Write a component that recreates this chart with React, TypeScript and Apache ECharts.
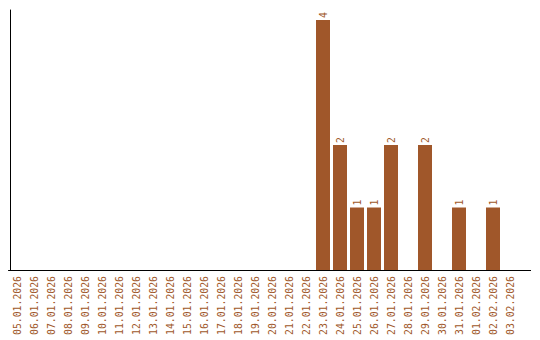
import React, { useEffect, useRef } from "react";
import * as echarts from "echarts";

const categories = [
  "05.01.2026", "06.01.2026", "07.01.2026", "08.01.2026", "09.01.2026",
  "10.01.2026", "11.01.2026", "12.01.2026", "13.01.2026", "14.01.2026",
  "15.01.2026", "16.01.2026", "17.01.2026", "18.01.2026", "19.01.2026",
  "20.01.2026", "21.01.2026", "22.01.2026", "23.01.2026", "24.01.2026",
  "25.01.2026", "26.01.2026", "27.01.2026", "28.01.2026", "29.01.2026",
  "30.01.2026", "31.01.2026", "01.02.2026", "02.02.2026", "03.02.2026",
];

const counts: (number | null)[] = [
  null, null, null, null, null,
  null, null, null, null, null,
  null, null, null, null, null,
  null, null, null, 4, 2,
  1, 1, 2, null, 2,
  null, 1, null, 1, null,
];

const BROWN = "#a0572a";

export default function App() {
  const ref = useRef<HTMLDivElement>(null);
  useEffect(() => {
    document.body.style.margin = "0";
    if (!ref.current) return;
    const chart = echarts.init(ref.current, null, { renderer: "svg" });
    chart.setOption({
      animation: false,
      grid: { left: 8.5, right: 21.5, top: 10, bottom: 70, containLabel: false },
      xAxis: {
        type: "category",
        data: categories,
        axisLine: { show: true, lineStyle: { color: "#000", width: 1 } },
        axisTick: { show: false },
        axisLabel: {
          rotate: 90,
          interval: 0,
          margin: 6,
          color: BROWN,
          fontFamily: "DejaVu Sans Mono",
          fontSize: 9.8,
        },
      },
      yAxis: {
        type: "value",
        min: 0,
        max: 4.16,
        offset: -1.5,
        splitLine: { show: false },
        axisLabel: { show: false },
        axisTick: { show: false },
        axisLine: { show: true, lineStyle: { color: "#000", width: 1 } },
      },
      series: [
        {
          type: "bar",
          data: counts,
          barWidth: 14,
          itemStyle: { color: BROWN },
          label: {
            show: true,
            position: "top",
            rotate: 90,
            align: "left",
            verticalAlign: "middle",
            distance: 2,
            color: BROWN,
            fontFamily: "DejaVu Sans Mono",
            fontSize: 9.8,
          },
        },
      ],
      graphic: [
        {
          type: "line",
          shape: { x1: 517, y1: 270.5, x2: 531, y2: 270.5 },
          style: { stroke: "#000", lineWidth: 1 },
        },
      ],
    });
    return () => chart.dispose();
  }, []);
  return <div ref={ref} style={{ width: 540, height: 340 }} />;
}
